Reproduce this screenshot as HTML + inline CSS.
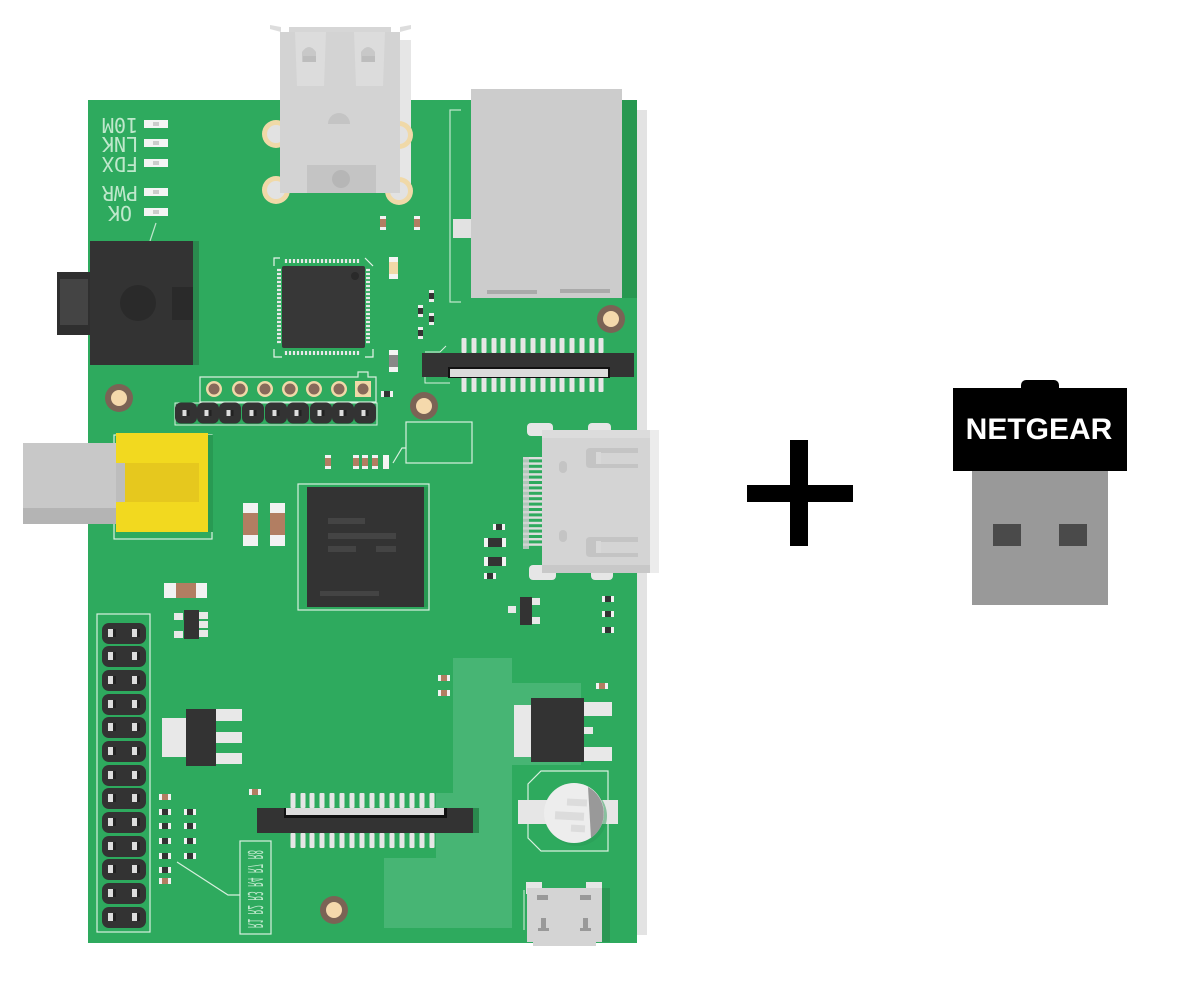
<!DOCTYPE html>
<html><head><meta charset="utf-8"><style>html,body{margin:0;padding:0;background:#fff;width:1200px;height:1000px;overflow:hidden}</style></head>
<body>
<svg width="1200" height="1000" viewBox="0 0 1200 1000" xmlns="http://www.w3.org/2000/svg">
<defs>
<g id="hole"><circle r="14" fill="#7b6355"/><circle r="8" fill="#f5d9ac"/></g>
<g id="tanpin"><circle r="8" fill="#f0d9a8"/><circle r="5.5" fill="#876a5a"/></g>
<g id="bpin"><rect x="-11" y="-10.5" width="22" height="21" rx="6" fill="#333"/><rect x="-3.5" y="-3" width="7" height="6" fill="#ddd"/><rect x="0.5" y="-3" width="3" height="6" fill="#222"/></g>
<g id="gpair"><rect x="0" y="0" width="44" height="21" rx="7" fill="#333"/><rect x="6" y="6" width="8" height="8" fill="#ddd"/><rect x="11" y="6" width="3" height="8" fill="#222"/><rect x="30" y="6" width="8" height="8" fill="#ddd"/><rect x="35" y="6" width="3" height="8" fill="#222"/></g>
<g id="fpin"><rect x="-2.5" y="0" width="5" height="15" rx="1" fill="#e6e6e6"/></g>
<g id="res"><rect x="-6" y="-3" width="12" height="6" fill="#f2f2f2"/><rect x="-3" y="-3" width="6" height="6" fill="#b27e62"/></g>
<g id="vres"><rect x="-3" y="-7" width="6" height="14" fill="#f2f2f2"/><rect x="-3" y="-4" width="6" height="8" fill="#b27e62"/></g>
<g id="blk"><rect x="-6" y="-3" width="12" height="6" fill="#f2f2f2"/><rect x="-3" y="-3" width="6" height="6" fill="#333"/></g>
<g id="led"><rect x="-12" y="-4" width="24" height="8" fill="#f4f4f4"/><rect x="-3" y="-2" width="6" height="4" fill="#ccc"/></g>
</defs>

<rect x="637" y="110" width="10" height="825" fill="#e3e3e3"/>
<rect x="88" y="100" width="549" height="843" fill="#2eaa5e"/>
<polygon points="453,658 512,658 512,683 581,683 581,765 512,765 512,928 384,928 384,858 436,858 436,793 453,793" fill="#47b574"/>

<!-- USB-A -->
<polygon points="270,25 281,27 281,32 270,29" fill="#ddd"/>
<polygon points="411,25 400,27 400,32 411,29" fill="#ddd"/>
<rect x="400" y="40" width="11" height="153" fill="#e6e6e6"/>
<circle cx="276" cy="134" r="14" fill="#f0d9a8"/><circle cx="276" cy="134" r="9" fill="#e2e2e2"/>
<circle cx="276" cy="190" r="14" fill="#f0d9a8"/><circle cx="276" cy="190" r="9" fill="#e2e2e2"/>
<circle cx="399" cy="135" r="14" fill="#f0d9a8"/><circle cx="399" cy="135" r="9" fill="#e2e2e2"/>
<circle cx="399" cy="191" r="14" fill="#f0d9a8"/><circle cx="399" cy="191" r="9" fill="#e2e2e2"/>
<rect x="289" y="27" width="102" height="6" fill="#d6d6d6"/>
<rect x="280" y="32" width="120" height="161" fill="#d3d3d3"/>
<polygon points="295,32 326,32 324,86 297,86" fill="#dcdcdc"/>
<polygon points="354,32 385,32 383,86 356,86" fill="#dcdcdc"/>
<path d="M302,62 L302,52 Q309,42 316,52 L316,62 Z" fill="#c8c8c8"/>
<path d="M361,62 L361,52 Q368,42 375,52 L375,62 Z" fill="#c8c8c8"/>
<rect x="303" y="56" width="13" height="6" fill="#bdbdbd"/><rect x="362" y="56" width="13" height="6" fill="#bdbdbd"/>
<path d="M328,124 A11,11 0 0 1 350,124 Z" fill="#c4c4c4"/>
<rect x="307" y="165" width="69" height="28" fill="#c4c4c4"/>
<circle cx="341" cy="179" r="9" fill="#b6b6b6"/>

<!-- Ethernet -->
<path d="M461,110 H450 V302 H461" fill="none" stroke="#bfe6cc" stroke-width="1.2"/>
<rect x="622" y="100" width="15" height="198" fill="#279850"/>
<rect x="471" y="89" width="151" height="209" fill="#cccccc"/>
<rect x="453" y="219" width="18" height="19" fill="#e2e2e2"/>
<rect x="487" y="290" width="50" height="4" fill="#aaa"/>
<rect x="560" y="289" width="50" height="4" fill="#aaa"/>

<!-- LED labels -->
<g font-family="'DejaVu Sans Mono','Liberation Mono',monospace" font-size="20" fill="#bfe8cc">
<text transform="translate(120,125) rotate(180)" text-anchor="middle" dominant-baseline="central">10M</text>
<text transform="translate(120,144) rotate(180)" text-anchor="middle" dominant-baseline="central">LNK</text>
<text transform="translate(120,164) rotate(180)" text-anchor="middle" dominant-baseline="central">FDX</text>
<text transform="translate(120,193) rotate(180)" text-anchor="middle" dominant-baseline="central">PWR</text>
<text transform="translate(120,213) rotate(180)" text-anchor="middle" dominant-baseline="central">OK</text>
</g>
<use href="#led" x="156" y="124"/><use href="#led" x="156" y="143"/><use href="#led" x="156" y="163"/><use href="#led" x="156" y="192"/><use href="#led" x="156" y="212"/>
<line x1="156" y1="223" x2="150" y2="241" stroke="#bfe6cc" stroke-width="1.2"/>

<!-- Audio jack -->
<rect x="57" y="272" width="34" height="63" fill="#2f2f2f"/>
<rect x="60" y="279" width="28" height="46" fill="#444"/>
<rect x="193" y="241" width="6" height="124" fill="#2a8a4e"/>
<rect x="90" y="241" width="103" height="124" fill="#333"/>
<circle cx="138" cy="303" r="18" fill="#2a2a2a"/>
<rect x="172" y="287" width="21" height="33" fill="#2a2a2a"/>

<!-- QFP chip -->
<g fill="none" stroke="#e6f5ea" stroke-width="1.2">
<path d="M280,258 H274 V266"/><path d="M274,349 V357 H282"/><path d="M365,357 H373 V349"/><path d="M365,258 L373,266"/>
</g>
<g stroke="#e8e8e8" stroke-width="2.2">
<path d="M286,263 V259 M290,263 V259 M294,263 V259 M298,263 V259 M302,263 V259 M306,263 V259 M310,263 V259 M314,263 V259 M318,263 V259 M322,263 V259 M326,263 V259 M330,263 V259 M334,263 V259 M338,263 V259 M342,263 V259 M346,263 V259 M350,263 V259 M354,263 V259 M358,263 V259"/>
<path d="M286,355 V351 M290,355 V351 M294,355 V351 M298,355 V351 M302,355 V351 M306,355 V351 M310,355 V351 M314,355 V351 M318,355 V351 M322,355 V351 M326,355 V351 M330,355 V351 M334,355 V351 M338,355 V351 M342,355 V351 M346,355 V351 M350,355 V351 M354,355 V351 M358,355 V351"/>
<path d="M277,270 H281 M277,274 H281 M277,278 H281 M277,282 H281 M277,286 H281 M277,290 H281 M277,294 H281 M277,298 H281 M277,302 H281 M277,306 H281 M277,310 H281 M277,314 H281 M277,318 H281 M277,322 H281 M277,326 H281 M277,330 H281 M277,334 H281 M277,338 H281 M277,342 H281"/>
<path d="M366,270 H370 M366,274 H370 M366,278 H370 M366,282 H370 M366,286 H370 M366,290 H370 M366,294 H370 M366,298 H370 M366,302 H370 M366,306 H370 M366,310 H370 M366,314 H370 M366,318 H370 M366,322 H370 M366,326 H370 M366,330 H370 M366,334 H370 M366,338 H370 M366,342 H370"/>
</g>
<rect x="282" y="266" width="83" height="82" rx="2" fill="#373737"/>
<circle cx="355" cy="276" r="4" fill="#2a2a2a"/>

<use href="#vres" x="383" y="223"/><use href="#vres" x="417" y="223"/>
<rect x="389" y="257" width="9" height="22" fill="#f4f4f4"/><rect x="389" y="262" width="9" height="12" fill="#f0d9a8"/>
<rect x="389" y="350" width="9" height="22" fill="#f4f4f4"/><rect x="389" y="355" width="9" height="12" fill="#888"/>
<rect x="429" y="290" width="5" height="12" fill="#eee"/><rect x="429" y="293" width="5" height="6" fill="#333"/>
<rect x="418" y="305" width="5" height="12" fill="#eee"/><rect x="418" y="308" width="5" height="6" fill="#333"/>
<rect x="429" y="313" width="5" height="12" fill="#eee"/><rect x="429" y="316" width="5" height="6" fill="#333"/>
<rect x="418" y="327" width="5" height="12" fill="#eee"/><rect x="418" y="330" width="5" height="6" fill="#333"/>
<use href="#blk" x="387" y="394"/>

<!-- header tan row -->
<path d="M200,402 V377 H358 V372 H368 V377 H376 V402 Z" fill="none" stroke="#d8f0df" stroke-width="1.2"/>
<use href="#tanpin" x="214" y="389"/><use href="#tanpin" x="240" y="389"/><use href="#tanpin" x="265" y="389"/><use href="#tanpin" x="290" y="389"/><use href="#tanpin" x="314" y="389"/><use href="#tanpin" x="339" y="389"/>
<rect x="355" y="381" width="16" height="16" fill="#f0d9a8"/><circle cx="363" cy="389" r="5.5" fill="#876a5a"/>
<rect x="175" y="403" width="202" height="22" fill="none" stroke="#d8f0df" stroke-width="1"/>
<use href="#bpin" x="186" y="413"/><use href="#bpin" x="208" y="413"/><use href="#bpin" x="230" y="413"/><use href="#bpin" x="253" y="413"/><use href="#bpin" x="276" y="413"/><use href="#bpin" x="298" y="413"/><use href="#bpin" x="321" y="413"/><use href="#bpin" x="343" y="413"/><use href="#bpin" x="365" y="413"/>

<use href="#hole" x="119" y="398"/><use href="#hole" x="424" y="406"/><use href="#hole" x="611" y="319"/><use href="#hole" x="334" y="910"/>

<!-- FPC top -->
<path d="M425,352 H440 L446,346" fill="none" stroke="#d8f0df" stroke-width="1"/>
<path d="M425,377 V383 H450" fill="none" stroke="#d8f0df" stroke-width="1"/>
<g>
<use href="#fpin" x="464" y="338"/><use href="#fpin" x="474" y="338"/><use href="#fpin" x="484" y="338"/><use href="#fpin" x="494" y="338"/><use href="#fpin" x="503" y="338"/><use href="#fpin" x="513" y="338"/><use href="#fpin" x="523" y="338"/><use href="#fpin" x="533" y="338"/><use href="#fpin" x="543" y="338"/><use href="#fpin" x="553" y="338"/><use href="#fpin" x="562" y="338"/><use href="#fpin" x="572" y="338"/><use href="#fpin" x="582" y="338"/><use href="#fpin" x="592" y="338"/><use href="#fpin" x="601" y="338"/>
<use href="#fpin" x="464" y="377"/><use href="#fpin" x="474" y="377"/><use href="#fpin" x="484" y="377"/><use href="#fpin" x="494" y="377"/><use href="#fpin" x="503" y="377"/><use href="#fpin" x="513" y="377"/><use href="#fpin" x="523" y="377"/><use href="#fpin" x="533" y="377"/><use href="#fpin" x="543" y="377"/><use href="#fpin" x="553" y="377"/><use href="#fpin" x="562" y="377"/><use href="#fpin" x="572" y="377"/><use href="#fpin" x="582" y="377"/><use href="#fpin" x="592" y="377"/><use href="#fpin" x="601" y="377"/>
</g>
<rect x="422" y="353" width="212" height="24" fill="#333"/>
<rect x="448" y="367" width="162" height="11" fill="#111"/>
<rect x="450" y="369" width="158" height="8" fill="#dcdcdc"/>

<rect x="406" y="422" width="66" height="41" fill="none" stroke="#d8f0df" stroke-width="1.2"/>
<path d="M393,463 L402,448 H406" fill="none" stroke="#d8f0df" stroke-width="1.2"/>
<use href="#vres" x="328" y="462"/><use href="#vres" x="356" y="462"/><use href="#vres" x="365" y="462"/><use href="#vres" x="375" y="462"/>
<rect x="383" y="455" width="6" height="14" fill="#f4f4f4"/>

<!-- composite -->
<rect x="114" y="435" width="98" height="104" fill="none" stroke="#d8f0df" stroke-width="1.2"/>
<rect x="208" y="435" width="5" height="97" fill="#289a53"/>
<rect x="23" y="443" width="93" height="81" fill="#c8c8c8"/>
<rect x="23" y="508" width="93" height="16" fill="#b4b4b4"/>
<rect x="116" y="433" width="92" height="99" fill="#f2d91f"/>
<rect x="125" y="463" width="74" height="39" fill="#e6c81e"/>
<rect x="116" y="463" width="9" height="39" fill="#bdbdbd"/>

<rect x="243" y="503" width="15" height="43" fill="#f2f2f2"/><rect x="243" y="513" width="15" height="22" fill="#b27e62"/>
<rect x="270" y="503" width="15" height="43" fill="#f2f2f2"/><rect x="270" y="513" width="15" height="22" fill="#b27e62"/>

<!-- SoC -->
<rect x="298" y="484" width="131" height="126" fill="none" stroke="#d8f0df" stroke-width="1.2"/>
<rect x="424" y="487" width="4" height="120" fill="#289a53"/>
<rect x="307" y="487" width="117" height="120" fill="#333"/>
<g fill="#444"><rect x="328" y="518" width="37" height="6"/><rect x="328" y="533" width="68" height="6"/><rect x="328" y="546" width="28" height="6"/><rect x="376" y="546" width="20" height="6"/><rect x="320" y="591" width="59" height="5"/></g>

<rect x="164" y="583" width="43" height="15" fill="#f2f2f2"/><rect x="176" y="583" width="20" height="15" fill="#b27e62"/>
<rect x="174" y="613" width="9" height="7" fill="#e8e8e8"/><rect x="174" y="631" width="9" height="7" fill="#e8e8e8"/>
<rect x="198" y="612" width="10" height="7" fill="#e8e8e8"/><rect x="198" y="621" width="10" height="7" fill="#e8e8e8"/><rect x="198" y="630" width="10" height="7" fill="#e8e8e8"/>
<rect x="184" y="610" width="15" height="29" fill="#333"/>

<!-- GPIO -->
<rect x="97" y="614" width="53" height="318" fill="none" stroke="#d8f0df" stroke-width="1.2"/>
<use href="#gpair" x="102" y="623"/><use href="#gpair" x="102" y="646"/><use href="#gpair" x="102" y="670"/><use href="#gpair" x="102" y="694"/><use href="#gpair" x="102" y="717"/><use href="#gpair" x="102" y="741"/><use href="#gpair" x="102" y="765"/><use href="#gpair" x="102" y="788"/><use href="#gpair" x="102" y="812"/><use href="#gpair" x="102" y="836"/><use href="#gpair" x="102" y="859"/><use href="#gpair" x="102" y="883"/><use href="#gpair" x="102" y="907"/>

<rect x="162" y="718" width="25" height="39" fill="#e8e8e8"/>
<rect x="214" y="709" width="28" height="12" fill="#e8e8e8"/><rect x="214" y="732" width="28" height="11" fill="#e8e8e8"/><rect x="214" y="753" width="28" height="11" fill="#e8e8e8"/>
<rect x="186" y="709" width="30" height="57" fill="#333"/>

<use href="#res" x="165" y="797"/><use href="#blk" x="165" y="812"/><use href="#blk" x="165" y="826"/><use href="#blk" x="165" y="841"/><use href="#blk" x="165" y="856"/><use href="#blk" x="165" y="870"/><use href="#res" x="165" y="881"/>
<use href="#blk" x="190" y="812"/><use href="#blk" x="190" y="826"/><use href="#blk" x="190" y="841"/><use href="#blk" x="190" y="856"/>
<path d="M177,862 L228,895 H240" fill="none" stroke="#d8f0df" stroke-width="1.2"/>
<rect x="240" y="841" width="31" height="93" fill="none" stroke="#d8f0df" stroke-width="1.2"/>
<text transform="translate(255,889) rotate(-90) scale(1,-1)" x="-39" textLength="78" lengthAdjust="spacingAndGlyphs" dominant-baseline="central" font-family="'DejaVu Sans Mono','Liberation Mono',monospace" font-size="20" fill="#bfe8cc">R1 R2 R3 R4 R7 R8</text>
<use href="#res" x="255" y="792"/>

<!-- FPC bottom -->
<g>
<use href="#fpin" x="293" y="793"/><use href="#fpin" x="303" y="793"/><use href="#fpin" x="312" y="793"/><use href="#fpin" x="322" y="793"/><use href="#fpin" x="332" y="793"/><use href="#fpin" x="342" y="793"/><use href="#fpin" x="352" y="793"/><use href="#fpin" x="362" y="793"/><use href="#fpin" x="372" y="793"/><use href="#fpin" x="382" y="793"/><use href="#fpin" x="392" y="793"/><use href="#fpin" x="402" y="793"/><use href="#fpin" x="412" y="793"/><use href="#fpin" x="422" y="793"/><use href="#fpin" x="432" y="793"/>
<use href="#fpin" x="293" y="833"/><use href="#fpin" x="303" y="833"/><use href="#fpin" x="312" y="833"/><use href="#fpin" x="322" y="833"/><use href="#fpin" x="332" y="833"/><use href="#fpin" x="342" y="833"/><use href="#fpin" x="352" y="833"/><use href="#fpin" x="362" y="833"/><use href="#fpin" x="372" y="833"/><use href="#fpin" x="382" y="833"/><use href="#fpin" x="392" y="833"/><use href="#fpin" x="402" y="833"/><use href="#fpin" x="412" y="833"/><use href="#fpin" x="422" y="833"/><use href="#fpin" x="432" y="833"/>
</g>
<rect x="473" y="808" width="6" height="25" fill="#2a8a4e"/>
<rect x="257" y="808" width="216" height="25" fill="#333"/>
<rect x="284" y="808" width="163" height="10" fill="#111"/>
<rect x="286" y="808" width="158" height="7" fill="#dcdcdc"/>

<!-- HDMI -->
<rect x="527" y="423" width="26" height="13" rx="4" fill="#e6e6e6"/><rect x="588" y="423" width="23" height="13" rx="4" fill="#e6e6e6"/>
<rect x="529" y="565" width="27" height="15" rx="4" fill="#e6e6e6"/><rect x="591" y="565" width="22" height="15" rx="4" fill="#e6e6e6"/>
<g fill="#dedede">
<rect x="523" y="457" width="20" height="2.4"/><rect x="523" y="462.4" width="20" height="2.4"/><rect x="523" y="467.8" width="20" height="2.4"/><rect x="523" y="473.2" width="20" height="2.4"/><rect x="523" y="478.6" width="20" height="2.4"/><rect x="523" y="484" width="20" height="2.4"/><rect x="523" y="489.4" width="20" height="2.4"/><rect x="523" y="494.8" width="20" height="2.4"/><rect x="523" y="500.2" width="20" height="2.4"/><rect x="523" y="505.6" width="20" height="2.4"/><rect x="523" y="511" width="20" height="2.4"/><rect x="523" y="516.4" width="20" height="2.4"/><rect x="523" y="521.8" width="20" height="2.4"/><rect x="523" y="527.2" width="20" height="2.4"/><rect x="523" y="532.6" width="20" height="2.4"/><rect x="523" y="538" width="20" height="2.4"/><rect x="523" y="543.4" width="20" height="2.4"/>
</g>
<rect x="523" y="457" width="6" height="92" fill="#d0d0d0" opacity="0.8"/>
<rect x="650" y="430" width="9" height="143" fill="#ececec"/>
<rect x="542" y="430" width="108" height="143" fill="#d4d4d4"/>
<rect x="542" y="430" width="108" height="8" fill="#dcdcdc"/>
<rect x="542" y="565" width="108" height="8" fill="#c8c8c8"/>
<path d="M638,448 H590 Q586,448 586,452 V464 Q586,468 590,468 H638 V464 H601 V453 H638 Z" fill="#c4c4c4"/>
<rect x="596" y="452" width="5" height="12" fill="#d8d8d8"/>
<path d="M638,537 H590 Q586,537 586,541 V553 Q586,557 590,557 H638 V553 H601 V542 H638 Z" fill="#c4c4c4"/>
<rect x="596" y="541" width="5" height="12" fill="#d8d8d8"/>
<rect x="559" y="461" width="8" height="12" rx="4" fill="#c4c4c4"/>
<rect x="559" y="530" width="8" height="12" rx="4" fill="#c4c4c4"/>

<use href="#blk" x="499" y="527"/>
<rect x="484" y="538" width="22" height="9" fill="#f2f2f2"/><rect x="488" y="538" width="14" height="9" fill="#333"/>
<rect x="484" y="557" width="22" height="9" fill="#f2f2f2"/><rect x="488" y="557" width="14" height="9" fill="#333"/>
<use href="#blk" x="490" y="576"/>
<rect x="508" y="606" width="8" height="7" fill="#e8e8e8"/>
<rect x="530" y="598" width="10" height="7" fill="#e8e8e8"/><rect x="530" y="617" width="10" height="7" fill="#e8e8e8"/>
<rect x="520" y="597" width="12" height="28" fill="#333"/>
<use href="#blk" x="608" y="599"/><use href="#blk" x="608" y="614"/><use href="#blk" x="608" y="630"/>
<use href="#res" x="444" y="678"/><use href="#res" x="444" y="693"/><use href="#res" x="602" y="686"/>

<rect x="514" y="705" width="17" height="52" fill="#e8e8e8"/>
<rect x="584" y="702" width="28" height="14" fill="#e8e8e8"/><rect x="584" y="727" width="9" height="7" fill="#e8e8e8"/><rect x="584" y="747" width="28" height="14" fill="#e8e8e8"/>
<rect x="531" y="698" width="53" height="64" fill="#333"/>

<!-- battery -->
<polygon points="541,771 608,771 608,851 541,851 528,838 528,784" fill="none" stroke="#d8f0df" stroke-width="1.2"/>
<rect x="518" y="800" width="100" height="24" fill="#e6e6e6"/>
<circle cx="577" cy="816" r="30" fill="#2a9a55" opacity="0.5"/>
<circle cx="574" cy="813" r="30" fill="#ededed"/>
<path d="M588,787 A30,30 0 0 1 591,838 Z" fill="#999"/>
<g fill="#dcdcdc"><rect x="567" y="799" width="20" height="7" transform="rotate(3 577 802)"/><rect x="555" y="812" width="29" height="8" transform="rotate(3 570 816)"/><rect x="571" y="825" width="14" height="7" transform="rotate(3 578 828)"/></g>

<!-- micro usb -->
<path d="M524,890 V930" stroke="#d8f0df" stroke-width="1"/>
<rect x="526" y="882" width="16" height="12" fill="#e6e6e6"/><rect x="586" y="882" width="16" height="12" fill="#e6e6e6"/>
<rect x="602" y="888" width="8" height="54" fill="#2a8a4e" opacity="0.6"/>
<rect x="527" y="888" width="75" height="54" fill="#d4d4d4"/>
<rect x="533" y="938" width="63" height="8" fill="#d4d4d4"/>
<rect x="537" y="895" width="11" height="5" fill="#999"/><rect x="580" y="895" width="11" height="5" fill="#999"/>
<rect x="541" y="918" width="5" height="11" fill="#999"/><rect x="583" y="918" width="5" height="11" fill="#999"/>
<rect x="538" y="928" width="11" height="3" fill="#999"/><rect x="580" y="928" width="11" height="3" fill="#999"/>

<!-- plus -->
<rect x="747" y="485" width="106" height="17" fill="#000"/>
<rect x="790" y="440" width="18" height="106" fill="#000"/>

<!-- NETGEAR -->
<rect x="972" y="471" width="136" height="134" fill="#999"/>
<rect x="993" y="524" width="28" height="22" fill="#4a4a4a"/>
<rect x="1059" y="524" width="28" height="22" fill="#4a4a4a"/>
<rect x="1021" y="380" width="38" height="14" rx="5" fill="#000"/>
<rect x="953" y="388" width="174" height="83" fill="#000"/>
<text x="1039" y="439" text-anchor="middle" font-family="'Liberation Sans',Arial,sans-serif" font-weight="bold" font-size="30" fill="#fff">NETGEAR</text>
</svg>
</body></html>
